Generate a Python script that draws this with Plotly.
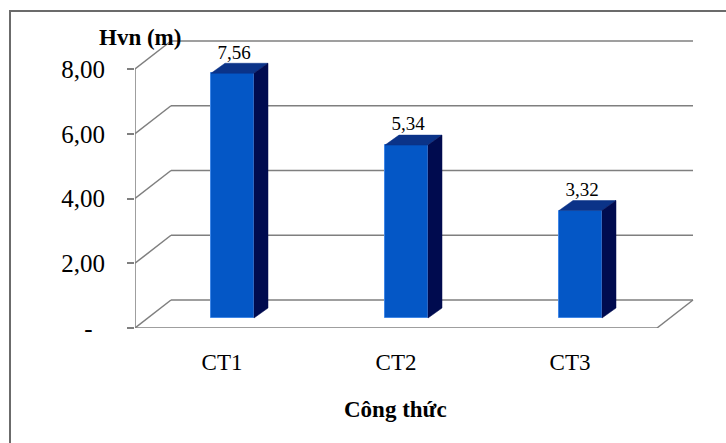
import plotly.graph_objects as go

# Chiều cao vút ngọn (Hvn) theo công thức
categories = ["CT1", "CT2", "CT3"]
values = [7.56, 5.34, 3.32]
y_ticks = [0, 2, 4, 6, 8]
y_tick_text = ["-\u00a0\u00a0", "2,00", "4,00", "6,00", "8,00"]

W, H = 726, 443
L, R, T, B = 135, 32, 38, 115          # plot area margins (px)
PX_X = 174.0                           # px per category band
PX_Y = 32.375                          # px per y unit
plot_w = W - L - R
plot_h = H - T - B
x_max = plot_w / PX_X
y_max = plot_h / PX_Y

# pseudo-3D geometry (in data units)
WALL_DX, WALL_DY = 36 / PX_X, 28 / PX_Y      # depth of floor / back wall
BAR_W = 43 / PX_X
BAR_SHIFT = 10.5 / PX_X                       # front face offset from band centre
BAR_BASE = 10 / PX_Y                          # front face starts inside the floor
BAR_DX, BAR_DY = 14 / PX_X, 10 / PX_Y         # bar depth

FRONT = "#0457C6"
TOP = "#0B3388"
SIDE = "#000B4F"
GRID = "#7f7f7f"
FONT = "Liberation Serif, Times New Roman, serif"

xs = [i + 0.5 for i in range(len(categories))]

fig = go.Figure()

# front faces
fig.add_trace(go.Bar(
    x=xs, y=values, base=BAR_BASE, width=BAR_W,
    offset=BAR_SHIFT - BAR_W / 2,
    marker=dict(color=FRONT, line=dict(color="#3f86e6", width=1)),
    hoverinfo="skip", showlegend=False,
))

# top and side faces
for xc, v in zip(xs, values):
    xl = xc + BAR_SHIFT - BAR_W / 2
    xr = xl + BAR_W
    top = BAR_BASE + v
    fig.add_trace(go.Scatter(
        x=[xl, xr, xr + BAR_DX, xl + BAR_DX, xl],
        y=[top, top, top + BAR_DY, top + BAR_DY, top],
        fill="toself", fillcolor=TOP, mode="lines",
        line=dict(color=TOP, width=0.5),
        hoverinfo="skip", showlegend=False,
    ))
    fig.add_trace(go.Scatter(
        x=[xr, xr, xr + BAR_DX, xr + BAR_DX, xr],
        y=[BAR_BASE, top, top + BAR_DY, BAR_BASE + BAR_DY, BAR_BASE],
        fill="toself", fillcolor=SIDE, mode="lines",
        line=dict(color=SIDE, width=0.5),
        hoverinfo="skip", showlegend=False,
    ))

# value labels
fig.add_trace(go.Scatter(
    x=[xc + BAR_SHIFT + 0.01 for xc in xs],
    y=[BAR_BASE + v + BAR_DY for v in values],
    mode="text",
    text=[f"{v:.2f}".replace(".", ",") for v in values],
    textposition="top center",
    textfont=dict(family=FONT, size=19, color="black"),
    hoverinfo="skip", showlegend=False,
))

shapes = []
n = len(categories)
# back wall gridlines and side-wall diagonals
for t in y_ticks:
    shapes.append(dict(type="line", xref="x", yref="y",
                       x0=WALL_DX, y0=t + WALL_DY, x1=n + WALL_DX, y1=t + WALL_DY,
                       line=dict(color=GRID, width=1.5), layer="below"))
    shapes.append(dict(type="line", xref="x", yref="y",
                       x0=0, y0=t, x1=WALL_DX, y1=t + WALL_DY,
                       line=dict(color=GRID, width=1.5), layer="below"))
# floor front edge and right diagonal
shapes.append(dict(type="line", xref="x", yref="y", x0=0, y0=0, x1=n, y1=0,
                   line=dict(color=GRID, width=1.5), layer="below"))
shapes.append(dict(type="line", xref="x", yref="y", x0=n, y0=0,
                   x1=n + WALL_DX, y1=WALL_DY,
                   line=dict(color=GRID, width=1.5), layer="below"))
# value axis line
shapes.append(dict(type="line", xref="x", yref="y", x0=0, y0=0, x1=0, y1=max(y_ticks),
                   line=dict(color=GRID, width=1.5), layer="below"))


def px_to_paper_x(px):
    return (px - L) / plot_w


def px_to_paper_y(py):
    return (H - B - py) / plot_h


# chart frame
shapes.append(dict(type="rect", xref="paper", yref="paper",
                   x0=px_to_paper_x(10), y0=px_to_paper_y(H + 5),
                   x1=px_to_paper_x(W + 5), y1=px_to_paper_y(11),
                   line=dict(color="#6b6b6b", width=2), fillcolor="rgba(0,0,0,0)"))

annotations = [
    dict(text="<b>Hvn (m)</b>", xref="paper", yref="paper",
         x=px_to_paper_x(140), y=px_to_paper_y(37),
         xanchor="center", yanchor="middle", showarrow=False,
         font=dict(family=FONT, size=23, color="black")),
    dict(text="<b>Công thức</b>", xref="paper", yref="paper",
         x=px_to_paper_x(395), y=px_to_paper_y(409),
         xanchor="center", yanchor="middle", showarrow=False,
         font=dict(family=FONT, size=23, color="black")),
]

fig.update_layout(
    width=W, height=H,
    margin=dict(l=L, r=R, t=T, b=B, pad=0),
    paper_bgcolor="white", plot_bgcolor="white",
    shapes=shapes, annotations=annotations,
    hovermode=False, bargap=0,
    xaxis=dict(range=[0, x_max], tickvals=xs, ticktext=categories,
               showgrid=False, zeroline=False, showline=False, ticks="",
               ticklabelstandoff=18,
               tickfont=dict(family=FONT, size=23, color="black")),
    yaxis=dict(range=[0, y_max], tickvals=y_ticks, ticktext=y_tick_text,
               showgrid=False, zeroline=False, showline=False,
               ticks="outside", ticklen=7, tickwidth=1.5, tickcolor=GRID,
               ticklabelstandoff=17,
               tickfont=dict(family=FONT, size=25, color="black")),
)

fig.write_html("out.html", config={"displayModeBar": False})
